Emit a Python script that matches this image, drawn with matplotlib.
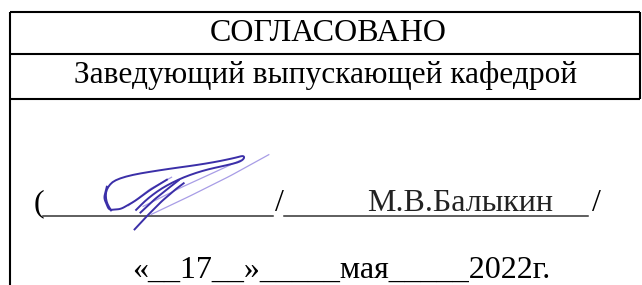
import matplotlib.pyplot as plt
import numpy as np

# texts of the approval block
title = "СОГЛАСОВАНО"
position = "Заведующий выпускающей кафедрой"
name = "М.В.Балыкин"
date_text = "«__17__»_____мая_____2022г."

# signature strokes, picture pixel coords (x, y down)
sig_thick = [
    [(107, 186), (104, 198), (109, 210), (121, 209), (135, 201), (150, 190), (168, 179)],
    [(112, 212), (105, 200), (107, 186), (120, 177), (160, 170), (205, 164), (235, 158),
     (245, 155), (243, 161), (228, 165), (200, 171), (172, 182), (150, 196), (134, 212)],
    [(134, 230), (148, 215), (162, 201), (176, 189), (184, 183)],
    [(140, 213), (155, 199), (170, 187), (179, 180)],
]
sig_thin = [
    [(150, 215), (190, 196), (230, 176), (270, 154)],
    [(142, 207), (180, 188), (215, 172), (241, 160)],
    [(128, 206), (150, 189), (172, 177)],
]


def smooth(pts, n=60):
    p = np.array(pts, dtype=float)
    t = np.linspace(0, 1, len(p))
    tt = np.linspace(0, 1, n)
    x = np.interp(tt, t, p[:, 0])
    y = np.interp(tt, t, p[:, 1])
    k = np.ones(5) / 5
    xs = np.convolve(np.pad(x, 2, mode="edge"), k, mode="valid")
    ys = np.convolve(np.pad(y, 2, mode="edge"), k, mode="valid")
    return xs, ys


fig = plt.figure(figsize=(6.42, 2.85), dpi=100)
ax = fig.add_axes([0, 0, 1, 1])
ax.set_xlim(0, 642)
ax.set_ylim(285, 0)
ax.axis("off")

font = dict(family="Liberation Serif", fontsize=23, color="black")
lw = 1.5

# table frame
ax.plot([10, 10], [12, 285], color="black", lw=lw, solid_capstyle="butt")
ax.plot([640, 640], [12, 99], color="black", lw=lw, solid_capstyle="butt")
for y in [12, 54, 99]:
    ax.plot([10, 640], [y, y], color="black", lw=lw, solid_capstyle="butt")

ax.text(328, 41, title, ha="center", va="baseline", **font)
ax.text(326, 83, position, ha="center", va="baseline", fontsize=22.6,
        family="Liberation Serif", color="black")

# signature line
ax.text(34, 211, "(", ha="left", va="baseline", **font)
ax.plot([43, 273], [216, 216], color="#333333", lw=1.1)
ax.text(279, 211, "/", ha="center", va="baseline", **font)
ax.plot([284, 588], [216, 216], color="#333333", lw=1.1)
ax.text(367, 211, name, ha="left", va="baseline", color="#222222",
        family="Liberation Serif", fontsize=23)
ax.text(596, 211, "/", ha="center", va="baseline", **font)

for s in sig_thin:
    xs, ys = smooth(s)
    ax.plot(xs, ys, color="#a89de6", lw=0.9)
for s in sig_thick:
    xs, ys = smooth(s)
    ax.plot(xs, ys, color="#3b2fa8", lw=1.4)

ax.text(550, 278, date_text, ha="right", va="baseline", **font)

fig.savefig("out.png", dpi=100)
